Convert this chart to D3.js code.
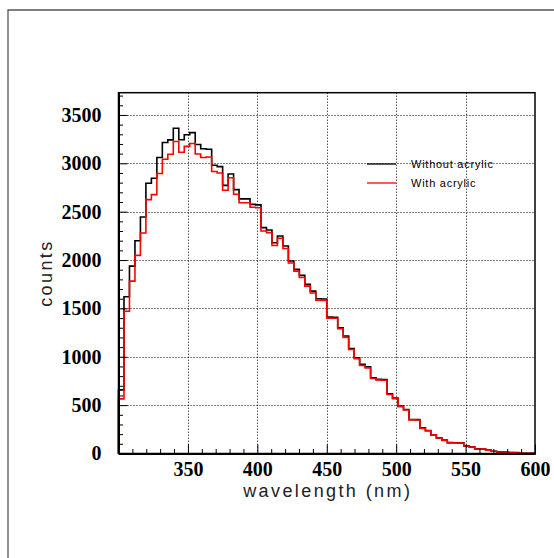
<!DOCTYPE html>
<html>
<head>
<meta charset="utf-8">
<script src="https://cdn.jsdelivr.net/npm/d3@7"></script>
<style>
  body { margin: 0; background: #fff; }
  .tick text { font-family: "Liberation Serif", "Times New Roman", serif; font-weight: bold; font-size: 20px; fill: #000; }
  .axisTitle { font-family: "Liberation Sans", Arial, sans-serif; font-size: 18px; letter-spacing: 2.4px; fill: #222; }
  .legendText { font-family: "Liberation Sans", Arial, sans-serif; font-size: 11px; letter-spacing: 0.75px; fill: #000; }
</style>
</head>
<body>
<script>
// histogram range (nm)
var binLow = 300;
var binHigh = 600;

// counts per bin, "Without acrylic"
var withoutAcrylic = [658, 1620, 1937, 2200, 2445, 2794, 2846, 3060, 3215, 3242,
    3363, 3243, 3295, 3317, 3195, 3150, 3145, 2980, 2966, 2772,
    2890, 2728, 2632, 2632, 2576, 2570, 2335, 2310, 2179, 2248,
    2145, 1990, 1903, 1841, 1748, 1679, 1600, 1598, 1410, 1408,
    1300, 1214, 1086, 990, 921, 897, 783, 766, 764, 618,
    574, 490, 455, 352, 350, 265, 238, 192, 162, 138,
    112, 111, 110, 79, 69, 48, 47, 35, 24, 17,
    16, 10, 9, 3, 3, 2];

// counts per bin, "With acrylic"
var withAcrylic = [565, 1470, 1782, 2048, 2280, 2625, 2676, 2894, 3042, 3093,
    3225, 3114, 3175, 3205, 3096, 3060, 3066, 2915, 2900, 2722,
    2850, 2680, 2593, 2593, 2545, 2540, 2300, 2283, 2150, 2225,
    2120, 1970, 1885, 1820, 1730, 1660, 1585, 1583, 1400, 1398,
    1290, 1200, 1075, 980, 910, 885, 775, 760, 758, 610,
    566, 485, 450, 348, 346, 260, 234, 190, 160, 136,
    110, 109, 108, 77, 67, 47, 46, 34, 23, 16,
    15, 9, 8, 3, 2, 1];

var seriesNames = ["Without acrylic", "With acrylic"];
var seriesColors = ["#000000", "#ff0000"];

var xTicks = [350, 400, 450, 500, 550, 600];
var yTicks = [0, 500, 1000, 1500, 2000, 2500, 3000, 3500];
var yMax = 3730;

var svgWidth = 554;
var svgHeight = 558;

var plot = { left: 118.5, right: 535, top: 92.7, bottom: 453.5 };

var svg = d3.select("body")
    .append("svg")
    .attr("width", svgWidth)
    .attr("height", svgHeight);

// outer canvas frame
svg.append("path")
    .attr("d", "M8," + svgHeight + "V10H" + svgWidth)
    .attr("fill", "none")
    .attr("stroke", "#555")
    .attr("stroke-width", 1.3);

var x = d3.scaleLinear().domain([binLow, binHigh]).range([plot.left, plot.right]);
var y = d3.scaleLinear().domain([0, yMax]).range([plot.bottom, plot.top]);

var xMinor = d3.range(310, 600, 10).filter(function (d) { return d % 50 !== 0; });
var yMinor = d3.range(100, yMax, 100).filter(function (d) { return d % 500 !== 0; });

// dotted grid
var grid = svg.append("g").attr("stroke", "#000").attr("stroke-width", 1).attr("stroke-dasharray", "1,2");
grid.selectAll("line.gx")
    .data(xTicks.filter(function (d) { return d < binHigh; }))
    .enter()
    .append("line")
    .attr("x1", function (d) { return Math.round(x(d)) + 0.5; })
    .attr("x2", function (d) { return Math.round(x(d)) + 0.5; })
    .attr("y1", plot.top)
    .attr("y2", plot.bottom);
grid.selectAll("line.gy")
    .data(yTicks.filter(function (d) { return d > 0; }))
    .enter()
    .append("line")
    .attr("x1", plot.left)
    .attr("x2", plot.right)
    .attr("y1", function (d) { return Math.round(y(d)) + 0.5; })
    .attr("y2", function (d) { return Math.round(y(d)) + 0.5; });

// histogram outlines
var binWidth = (binHigh - binLow) / withoutAcrylic.length;

function stepPoints(values) {
    var pts = [[binLow, 0]];
    values.forEach(function (v, i) {
        pts.push([binLow + i * binWidth, v]);
    });
    pts.push([binHigh, values[values.length - 1]]);
    pts.push([binHigh, 0]);
    return pts;
}

var line = d3.line()
    .x(function (d) { return x(d[0]); })
    .y(function (d) { return y(d[1]); })
    .curve(d3.curveStepAfter);

[withoutAcrylic, withAcrylic].forEach(function (vals, i) {
    svg.append("path")
        .attr("d", line(stepPoints(vals)))
        .attr("fill", "none")
        .attr("stroke", seriesColors[i])
        .attr("stroke-width", 1.6);
});

// frame
svg.append("rect")
    .attr("x", plot.left)
    .attr("y", plot.top)
    .attr("width", plot.right - plot.left)
    .attr("height", plot.bottom - plot.top)
    .attr("fill", "none")
    .attr("stroke", "#000")
    .attr("stroke-width", 1.5);

// axes
var bottomAxis = d3.axisBottom(x).tickValues(xTicks).tickSizeInner(-9).tickSizeOuter(0).tickPadding(8).tickFormat(d3.format("d"));
var bottomMinor = d3.axisBottom(x).tickValues(xMinor).tickSizeInner(-4.5).tickSizeOuter(0).tickFormat("");
var leftAxis = d3.axisLeft(y).tickValues(yTicks).tickSizeInner(-9).tickSizeOuter(0).tickPadding(17).tickFormat(d3.format("d"));
var leftMinor = d3.axisLeft(y).tickValues(yMinor).tickSizeInner(-4.5).tickSizeOuter(0).tickFormat("");

svg.append("g").attr("transform", "translate(0," + plot.bottom + ")").call(bottomMinor);
svg.append("g").attr("transform", "translate(0," + plot.bottom + ")").call(bottomAxis);
svg.append("g").attr("transform", "translate(" + plot.left + ",0)").call(leftMinor);
svg.append("g").attr("transform", "translate(" + plot.left + ",0)").call(leftAxis);

svg.selectAll(".domain").attr("stroke", "#000").attr("stroke-width", 2);
svg.selectAll(".tick line").attr("stroke", "#000").attr("stroke-width", 1);

// axis titles
svg.append("text")
    .attr("class", "axisTitle")
    .attr("x", (plot.left + plot.right) / 2 + 1)
    .attr("y", 497)
    .attr("text-anchor", "middle")
    .text("wavelength (nm)");

svg.append("text")
    .attr("class", "axisTitle")
    .attr("transform", "translate(52," + ((plot.top + plot.bottom) / 2) + ") rotate(-90)")
    .attr("text-anchor", "middle")
    .text("counts");

// legend
var legend = svg.append("g").attr("transform", "translate(367,164)");
seriesNames.forEach(function (name, i) {
    legend.append("line")
        .attr("x1", 0)
        .attr("x2", 29)
        .attr("y1", i * 19)
        .attr("y2", i * 19)
        .attr("stroke", seriesColors[i])
        .attr("stroke-width", 1.3);
    legend.append("text")
        .attr("class", "legendText")
        .attr("x", 44)
        .attr("y", i * 19 + 4)
        .text(name);
});
</script>
</body>
</html>
